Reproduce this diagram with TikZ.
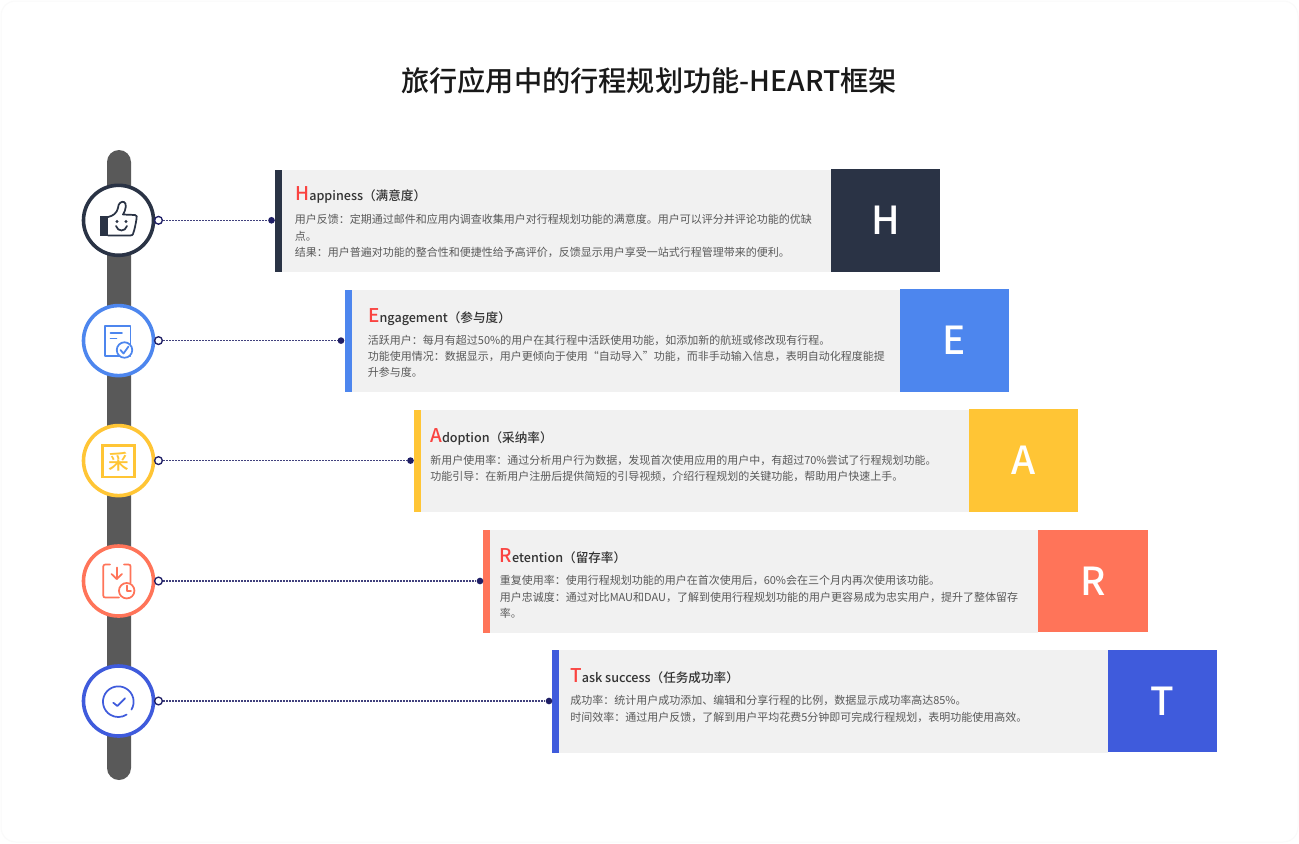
\documentclass[tikz,border=0pt]{standalone}
\usepackage{fontspec}
\setmainfont{Noto Sans CJK SC}
\newfontfamily\medfont{Noto Sans CJK SC Medium}
\definecolor{cH}{HTML}{2A3345}
\definecolor{cE}{HTML}{4D86EE}
\definecolor{cA}{HTML}{FFC535}
\definecolor{cR}{HTML}{FF7459}
\definecolor{cT}{HTML}{3F5BDC}
\definecolor{cardbg}{HTML}{F1F1F1}
\definecolor{spine}{HTML}{595959}
\definecolor{initred}{HTML}{FA4340}
\definecolor{bodytx}{HTML}{595959}
\definecolor{headtx}{HTML}{333333}
\definecolor{navy}{HTML}{1F1F66}
\tikzset{
  x=0.75pt,y=-0.75pt,
  ring/.style={circle,draw=#1,line width=2.7pt,fill=white,minimum size=52.5pt,inner sep=0pt},
  accent/.style={fill=#1,draw=none},
  cardbox/.style={fill=cardbg,draw=none},
  letterbox/.style={fill=#1,draw=none},
  hollowdot/.style={circle,draw=navy,line width=1pt,fill=white,minimum size=5.8pt,inner sep=0pt},
  soliddot/.style={circle,fill=navy,draw=none,minimum size=5pt,inner sep=0pt},
  conn/.style={draw=navy!85,line width=1pt,dash pattern=on 1.1pt off 1.15pt},
  headtext/.style={anchor=base west,inner sep=0pt,text=headtx,font=\medfont\fontsize{9.45pt}{12pt}\selectfont},
  bodytext/.style={anchor=north west,inner sep=0pt,align=left,text=bodytx,font=\fontsize{8.25pt}{12.35pt}\selectfont},
  lettertext/.style={text=white,inner sep=0pt,font=\medfont\fontsize{29pt}{30pt}\selectfont},
  iconline/.style={draw=#1,line width=1.3pt,line cap=round,line join=round},
}
\newcommand{\Init}[1]{{\color{initred}\fontsize{14.2pt}{14pt}\selectfont #1}}
\begin{document}
\begin{tikzpicture}
\useasboundingbox (0,0) rectangle (1299,843);
\fill[white] (0,0) rectangle (1299,843);
\draw[draw=black!2,line width=0.75pt,rounded corners=11pt] (1,1) rectangle (1298,842);
\node[inner sep=0pt,text=black!90,font=\medfont\fontsize{21.15pt}{24pt}\selectfont] (title) at (649,81) {旅行应用中的行程规划功能-HEART框架};
% spine
\fill[spine,rounded corners=9pt] (107,150) rectangle (131,780);
% rings
\node[ring=cH] (rH) at (118.5,220.3) {};
\node[ring=cE] (rE) at (118.5,340.6) {};
\node[ring=cA] (rA) at (118.5,460.6) {};
\node[ring=cR] (rR) at (118.5,581) {};
\node[ring=cT] (rT) at (118.5,701) {};
% cards H
\fill[cardbox] (282,169.5) rectangle (831,272);
\fill[accent=cH] (275,169.5) rectangle (282,272);
\node[letterbox=cH,minimum width=82pt,minimum height=77pt,inner sep=0pt] (bH) at (885.5,220.3) {};
\node[lettertext] (lH) at (bH) {H};
% E
\fill[cardbox] (352,289.5) rectangle (900,392);
\fill[accent=cE] (345,289.5) rectangle (352,392);
\node[letterbox=cE,minimum width=82pt,minimum height=77pt,inner sep=0pt] (bE) at (954.5,340.6) {};
\node[lettertext] (lE) at (bE) {E};
% A
\fill[cardbox] (421,409.5) rectangle (969,512);
\fill[accent=cA] (414,409.5) rectangle (421,512);
\node[letterbox=cA,minimum width=82pt,minimum height=77pt,inner sep=0pt] (bA) at (1023.5,460.6) {};
\node[lettertext] (lA) at (bA) {A};
% R
\fill[cardbox] (490,530) rectangle (1038,632.5);
\fill[accent=cR] (483,530) rectangle (490,632.5);
\node[letterbox=cR,minimum width=82pt,minimum height=77pt,inner sep=0pt] (bR) at (1093,581) {};
\node[lettertext] (lR) at (bR) {R};
% T
\fill[cardbox] (559,650) rectangle (1108,752.5);
\fill[accent=cT] (552,650) rectangle (559,752.5);
\node[letterbox=cT,minimum width=82pt,minimum height=77pt,inner sep=0pt] (bT) at (1162.5,701) {};
\node[lettertext] (lT) at (bT) {T};
% connectors
\node[hollowdot] (kH) at (158.5,220.3) {};
\node[hollowdot] (kE) at (158.5,340.6) {};
\node[hollowdot] (kA) at (158.5,460.6) {};
\node[hollowdot] (kR) at (158.5,581) {};
\node[hollowdot] (kT) at (158.5,701) {};
\node[soliddot] (dH) at (271.5,220.3) {};
\node[soliddot] (dE) at (341,340.6) {};
\node[soliddot] (dA) at (410.5,460.6) {};
\node[soliddot] (dR) at (480,581) {};
\node[soliddot] (dT) at (549,701) {};
\draw[conn] (kH) -- (dH);
\draw[conn] (kE) -- (dE);
\draw[conn] (kA) -- (dA);
\draw[conn] (kR) -- (dR);
\draw[conn] (kT) -- (dT);
% headings
\node[headtext] (hH) at (295,200.3) {\Init{H}appiness（满意度）};
\node[headtext] (hE) at (368,322) {\Init{E}ngagement（参与度）};
\node[headtext] (hA) at (430,442) {\Init{A}doption（采纳率）};
\node[headtext] (hR) at (499.5,562) {\Init{R}etention（留存率）};
\node[headtext] (hT) at (570,682.3) {\Init{T}ask success（任务成功率）};
% bodies
\node[bodytext] (tH) at (294.7,214.3) {用户反馈：定期通过邮件和应用内调查收集用户对行程规划功能的满意度。用户可以评分并评论功能的优缺\\点。\\结果：用户普遍对功能的整合性和便捷性给予高评价，反馈显示用户享受一站式行程管理带来的便利。};
\node[bodytext] (tE) at (367.7,334.4) {活跃用户：每月有超过50\%的用户在其行程中活跃使用功能，如添加新的航班或修改现有行程。\\功能使用情况：数据显示，用户更倾向于使用“自动导入”功能，而非手动输入信息，表明自动化程度能提\\升参与度。};
\node[bodytext] (tA) at (430,454.8) {新用户使用率：通过分析用户行为数据，发现首次使用应用的用户中，有超过70\%尝试了行程规划功能。\\功能引导：在新用户注册后提供简短的引导视频，介绍行程规划的关键功能，帮助用户快速上手。};
\node[bodytext] (tR) at (499.5,575.3) {重复使用率：使用行程规划功能的用户在首次使用后，60\%会在三个月内再次使用该功能。\\用户忠诚度：通过对比MAU和DAU，了解到使用行程规划功能的用户更容易成为忠实用户，提升了整体留存\\率。};
\node[bodytext] (tT) at (570,695.3) {成功率：统计用户成功添加、编辑和分享行程的比例，数据显示成功率高达85\%。\\时间效率：通过用户反馈，了解到用户平均花费5分钟即可完成行程规划，表明功能使用高效。};
% icon H
\fill[cH] (100,216) rectangle (108,236);
\draw[iconline=cH] (108,217) .. controls (113,216) and (117,213) .. (118,208) .. controls (118,203) and (122,201) .. (124,202) .. controls (127,203) and (126,210) .. (123,214.5) -- (135,215) .. controls (137,215) and (137,217) .. (136.5,219) .. controls (135.5,225) and (134.5,230) .. (133,234) .. controls (132.5,235) and (132,235.5) .. (130,235.5) -- (108,235.5);
\fill[cH] (117,221.5) circle[radius=1.2pt];
\fill[cH] (126,221.5) circle[radius=1.2pt];
\draw[iconline=cH] (116,226) .. controls (118,232) and (125,232) .. (127,226);
% icon E
\draw[iconline=cE] (105.3,326) rectangle (130.5,356);
\draw[iconline=cE] (110.5,333) -- (122,333);
\draw[iconline=cE] (110.5,338.5) -- (116.5,338.5);
\filldraw[iconline=cE,fill=white] (124.5,350) circle[radius=5.8pt];
\draw[iconline=cE] (120.5,350) -- (123.5,353.5) -- (128.5,346.5);
% icon A
\draw[draw=cA,line width=1.6pt] (102.5,445.5) rectangle (134.5,477);
\node[inner sep=0pt,text=cA,font=\medfont\fontsize{15.5pt}{16pt}\selectfont] (iA) at (118.5,461.5) {采};
% icon R
\draw[iconline=cR] (110,564.5) -- (105.5,564.5) .. controls (104,564.5) and (103.3,565.2) .. (103.3,566.5) -- (103.3,595.5) .. controls (103.3,597) and (104,597.5) .. (105.5,597.5) -- (119,597.5);
\draw[iconline=cR] (124,564.5) -- (128.5,564.5) .. controls (130,564.5) and (130.5,565.2) .. (130.5,566.5) -- (130.5,583);
\draw[iconline=cR] (116.7,567.5) -- (116.7,579);
\draw[iconline=cR] (111.5,574) -- (116.7,579) -- (122,574);
\filldraw[iconline=cR,fill=white] (126.7,590.7) circle[radius=5.8pt];
\draw[iconline=cR] (126.7,585.5) -- (126.7,591) -- (131,591);
% icon T
\draw[iconline=cT] (118.3,701.7) ++(-31:11.5pt) arc[start angle=-31,end angle=303,radius=11.5pt];
\draw[iconline=cT] (113.3,702.7) -- (117.3,706) -- (125,698.3);
\end{tikzpicture}
\end{document}
